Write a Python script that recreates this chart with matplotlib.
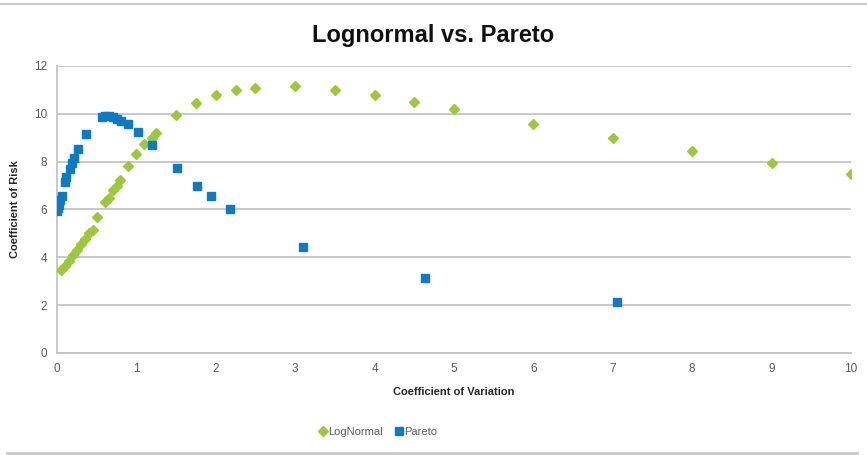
import matplotlib
matplotlib.use("Agg")
import matplotlib.pyplot as plt
from matplotlib.lines import Line2D

plt.rcParams['font.family'] = ['Liberation Sans', 'DejaVu Sans']

# Lognormal series: coefficient of variation vs coefficient of risk
lognormal_cv = [0.05, 0.1, 0.15, 0.2, 0.25, 0.3, 0.35, 0.4, 0.45, 0.5, 0.6, 0.65,
                0.7, 0.75, 0.8, 0.9, 1.0, 1.1, 1.2, 1.25, 1.5, 1.75, 2.0, 2.25,
                2.5, 3.0, 3.5, 4.0, 4.5, 5.0, 6.0, 7.0, 8.0, 9.0, 10.0]
lognormal_cr = [3.45, 3.62, 3.85, 4.08, 4.32, 4.55, 4.78, 5.0, 5.15, 5.7, 6.3, 6.5,
                6.8, 7.0, 7.25, 7.8, 8.3, 8.75, 9.0, 9.2, 9.95, 10.45, 10.8, 11.0,
                11.1, 11.17, 11.0, 10.78, 10.5, 10.22, 9.56, 9.0, 8.45, 7.95, 7.5]

# Pareto series
pareto_cv = [0.0, 0.01, 0.02, 0.04, 0.06, 0.1, 0.12, 0.16, 0.19, 0.22, 0.27, 0.36,
             0.57, 0.61, 0.65, 0.7, 0.76, 0.81, 0.9, 1.02, 1.2, 1.51, 1.76, 1.94,
             2.18, 3.1, 4.64, 7.05]
pareto_cr = [5.92, 6.05, 6.2, 6.4, 6.55, 7.15, 7.35, 7.7, 7.95, 8.15, 8.52, 9.15,
             9.85, 9.9, 9.92, 9.88, 9.8, 9.7, 9.57, 9.24, 8.68, 7.74, 7.0, 6.58,
             6.0, 4.45, 3.12, 2.12]

x_ticks = list(range(0, 11))
y_ticks = list(range(0, 13, 2))

GREEN = '#9cc83c'
BLUE = '#0f79c2'
GRID = '#c4c4c4'
TEXT = '#595959'

fig = plt.figure(figsize=(8.67, 4.55), dpi=100)
ax = fig.add_axes([0.0657, 0.2242, 0.9158, 0.6308])

ax.plot(lognormal_cv, lognormal_cr, linestyle='none', marker='D', markersize=5.4,
        color=GREEN, label='LogNormal', zorder=3)
ax.plot(pareto_cv, pareto_cr, linestyle='none', marker='s', markersize=6.3,
        color=BLUE, label='Pareto', zorder=4)

ax.set_xlim(0, 10)
ax.set_ylim(0, 12)
ax.set_xticks(x_ticks)
ax.set_yticks(y_ticks)
ax.tick_params(axis='both', length=0, labelsize=8.5, colors=TEXT, pad=7)
ax.yaxis.grid(True, color=GRID, linewidth=1.3)
ax.set_axisbelow(True)
for side in ('top', 'right'):
    ax.spines[side].set_visible(False)
for side in ('left', 'bottom'):
    ax.spines[side].set_color(GRID)
    ax.spines[side].set_linewidth(1.3)

ax.set_xlabel('Coefficient of Variation', fontsize=8, fontweight='bold',
              color='#262626', labelpad=9)
ax.set_ylabel('Coefficient of Risk', fontsize=8, fontweight='bold',
              color='#262626', labelpad=10)

fig.text(0.5, 0.922, 'Lognormal vs. Pareto', ha='center', va='center',
         fontsize=17, fontweight='bold', color='#111111')

leg = ax.legend(loc='center', bbox_to_anchor=(0.405, -0.275), ncol=2, frameon=False,
                fontsize=8, handlelength=0.6, handletextpad=0.15, columnspacing=1.2,
                markerscale=0.9)
for t in leg.get_texts():
    t.set_color(TEXT)

# Thin rules framing the chart top and bottom
fig.add_artist(Line2D([0.0, 1.0], [0.991, 0.991], transform=fig.transFigure,
                      color='#c8c8c8', linewidth=1.5))
fig.add_artist(Line2D([0.008, 0.988], [0.005, 0.005], transform=fig.transFigure,
                      color='#c8c8c8', linewidth=2))

fig.savefig('out.png', dpi=100)
